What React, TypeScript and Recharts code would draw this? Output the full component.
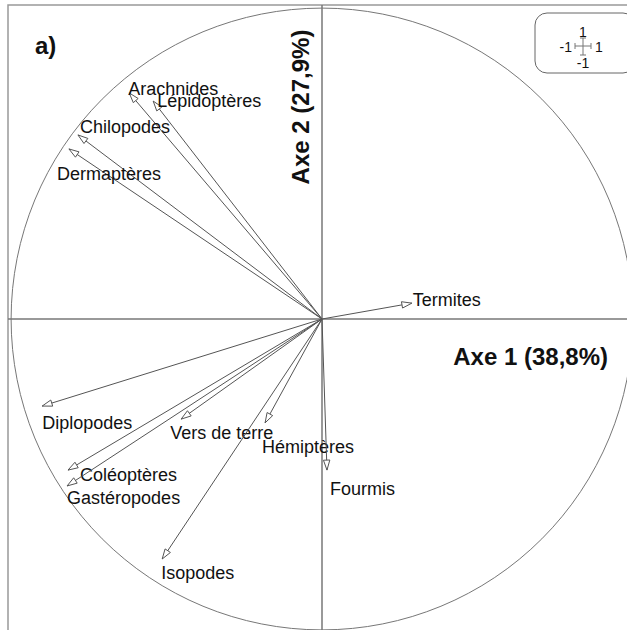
import { ScatterChart, Scatter, XAxis, YAxis, ReferenceLine, ReferenceArea, ReferenceDot } from "recharts";

// PCA correlation circle: variable coordinates on axis 1 / axis 2
const names = [
  "Arachnides",
  "Lépidoptères",
  "Chilopodes",
  "Dermaptères",
  "Termites",
  "Diplopodes",
  "Vers de terre",
  "Hémiptères",
  "Coléoptères",
  "Gastéropodes",
  "Fourmis",
  "Isopodes",
];
const axis1 = [-0.62, -0.543, -0.785, -0.814, 0.289, -0.9, -0.453, -0.183, -0.817, -0.82, 0.016, -0.514];
const axis2 = [0.727, 0.701, 0.592, 0.547, 0.051, -0.28, -0.322, -0.334, -0.486, -0.537, -0.486, -0.772];

const axisTitle1 = "Axe 1 (38,8%)";
const axisTitle2 = "Axe 2 (27,9%)";

// label placement relative to arrow tip (px)
const LABEL_OFFSET: Record<string, [number, number]> = {
  Arachnides: [-1, -4],
  "Lépidoptères": [4, 0],
  Chilopodes: [2, -8],
  "Dermaptères": [-12, 25],
  Termites: [1, -3],
  Diplopodes: [0, 17],
  "Vers de terre": [-11, 14],
  "Hémiptères": [-3, 24],
  "Coléoptères": [12, 5],
  "Gastéropodes": [0, 12],
  Fourmis: [3, 19],
  Isopodes: [-1, 14],
};

const W = 640;
const H = 640;
const DOMAIN: [number, number] = [-1.01, 1.01];
const MARGIN = { top: 5, left: 8, right: 4, bottom: 7 };
const PLOT_W = W - MARGIN.left - MARGIN.right;
const R = PLOT_W / (DOMAIN[1] - DOMAIN[0]);
const FONT = "'Liberation Sans', Arial, sans-serif";

const ArrowTip = (props: any) => {
  const { cx, cy, payload } = props;
  if (!payload || !payload.name) return <g />;
  const len = Math.hypot(payload.x, payload.y) || 1;
  const ux = payload.x / len;
  const uy = -payload.y / len;
  const L = 10;
  const hw = 3.2;
  const bx = cx - ux * L;
  const by = cy - uy * L;
  const pts = `${cx},${cy} ${bx - uy * hw},${by + ux * hw} ${bx + uy * hw},${by - ux * hw}`;
  const [dx, dy] = LABEL_OFFSET[payload.name] || [0, 0];
  return (
    <g>
      <polygon points={pts} fill="#fff" stroke="#555" strokeWidth={1} />
      <text x={cx + dx} y={cy + dy} dominantBaseline="central" fontSize={18} fontFamily={FONT} fill="#111">
        {payload.name}
      </text>
    </g>
  );
};

export default function App() {
  const series = names.map((name, i) => ({
    name,
    data: [
      { x: 0, y: 0, name: "" },
      { x: axis1[i], y: axis2[i], name },
    ],
  }));

  return (
    <div style={{ position: "absolute", left: 0, top: 0, width: 627, height: 630, overflow: "hidden", background: "#fff" }}>
      <ScatterChart width={W} height={H} margin={MARGIN}>
        <XAxis type="number" dataKey="x" domain={DOMAIN} hide allowDataOverflow />
        <YAxis type="number" dataKey="y" domain={DOMAIN} hide allowDataOverflow />
        <ReferenceArea x1={DOMAIN[0]} x2={DOMAIN[1]} y1={DOMAIN[0]} y2={DOMAIN[1]} fill="none" stroke="#999" strokeWidth={1.5} />
        <ReferenceDot x={0} y={0} r={R} fill="none" stroke="#777" strokeWidth={1} />
        <ReferenceLine x={0} stroke="#777" strokeWidth={1.5} />
        <ReferenceLine y={0} stroke="#777" strokeWidth={1.5} />
        {series.map((s) => (
          <Scatter
            key={s.name}
            data={s.data}
            line={{ stroke: "#555", strokeWidth: 1 }}
            shape={<ArrowTip />}
            isAnimationActive={false}
          />
        ))}
      </ScatterChart>
      <svg width={627} height={630} style={{ position: "absolute", left: 0, top: 0, pointerEvents: "none" }}>
        <text x={35} y={45} dominantBaseline="central" fontSize={24} fontWeight="bold" fontFamily={FONT} fill="#111">
          a)
        </text>
        <text x={608} y={356} textAnchor="end" dominantBaseline="central" fontSize={24} fontWeight="bold" fontFamily={FONT} fill="#111">
          {axisTitle1}
        </text>
        <text
          x={300}
          y={107}
          textAnchor="middle"
          dominantBaseline="central"
          fontSize={24}
          fontWeight="bold"
          fontFamily={FONT}
          fill="#111"
          transform="rotate(-90 300 107)"
        >
          {axisTitle2}
        </text>
        <g fontFamily={FONT} fontSize={14} fill="#111">
          <rect x={535} y={13} width={100} height={60} rx={12} fill="#fff" stroke="#666" strokeWidth={1} />
          <line x1={575} y1={46} x2={591} y2={46} stroke="#777" />
          <line x1={583} y1={38} x2={583} y2={55} stroke="#777" />
          <line x1={575} y1={43} x2={575} y2={49} stroke="#777" />
          <line x1={591} y1={43} x2={591} y2={49} stroke="#777" />
          <line x1={580} y1={38} x2={586} y2={38} stroke="#777" />
          <line x1={580} y1={55} x2={586} y2={55} stroke="#777" />
          <text x={583} y={32} textAnchor="middle" dominantBaseline="central">1</text>
          <text x={572} y={47} textAnchor="end" dominantBaseline="central">-1</text>
          <text x={595} y={47} dominantBaseline="central">1</text>
          <text x={583} y={63} textAnchor="middle" dominantBaseline="central">-1</text>
        </g>
      </svg>
    </div>
  );
}
